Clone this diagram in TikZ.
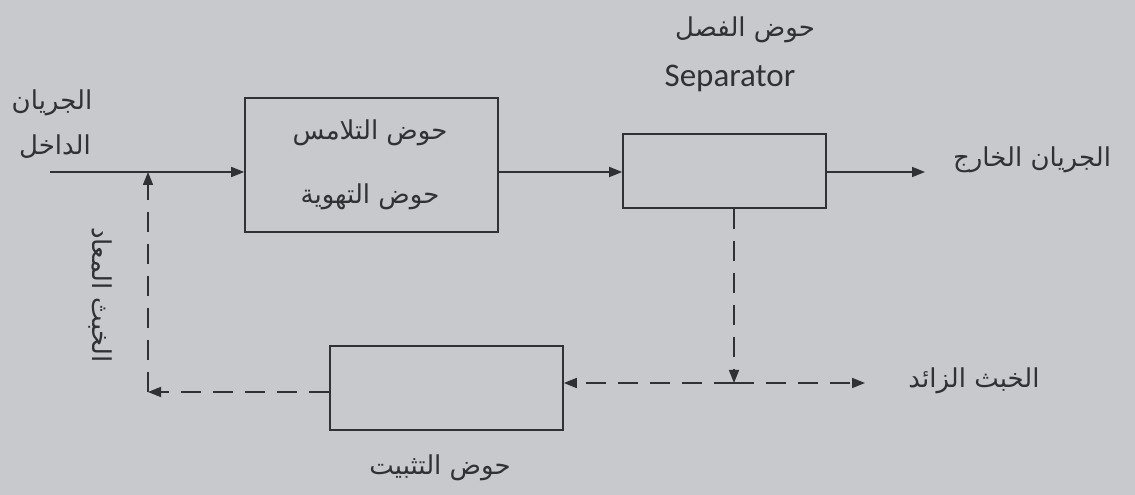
\documentclass[tikz,border=0pt]{standalone}
\usepackage{fontspec}
\setmainfont{Carlito}
\newfontfamily\arabicfont[Script=Arabic]{DejaVu Sans}
\TeXXeTstate=1
\usetikzlibrary{arrows.meta}
\definecolor{paper}{RGB}{200,201,204}
\definecolor{ink}{RGB}{48,49,53}
\newcommand{\artext}[1]{{\arabicfont\beginR #1\endR}}

\begin{document}
\begin{tikzpicture}[x=1pt,y=1pt,
    tank/.style={draw=ink,line width=1.6pt,inner sep=0pt},
    flow/.style={draw=ink,line width=1.6pt,-{Triangle[length=13pt,width=10pt]}},
    sludge/.style={draw=ink,line width=1.6pt,dash pattern=on 20pt off 12pt,
        -{Triangle[length=13pt,width=10pt]}},
    label/.style={text=ink,inner sep=0pt,font=\fontsize{26}{30}\selectfont}]
    % background
    \fill[paper] (0,0) rectangle (1135,495);
    \useasboundingbox (0,0) rectangle (1135,495);
    % tanks
    \node[tank,minimum width=253,minimum height=134] (contact) at (371.5,330) {};
    \node[tank,minimum width=203,minimum height=74] (separator) at (724.5,324) {};
    \node[tank,minimum width=233,minimum height=84] (stabil) at (446.5,107) {};
    \node[label] (contactA) at (370,362) {\artext{حوض التلامس}};
    \node[label] (contactB) at (370,298) {\artext{حوض التهوية}};
    \node[label] (sepA) at (745,465) {\artext{حوض الفصل}};
    \node[label,font=\fontsize{33}{38}\selectfont] (sepB) at (730,417) {Separator};
    \node[label] (stabilA) at (440,27) {\artext{حوض التثبيت}};
    % flow line
    \coordinate (inlet) at (50,323);
    \coordinate (join) at (148,323);
    \coordinate (outlet) at (925,323);
    \node[label] (inA) at (52,392) {\artext{الجريان}};
    \node[label] (inB) at (55,348) {\artext{الداخل}};
    \node[label] (outA) at (1032,335) {\artext{الجريان الخارج}};
    \draw[flow] (inlet) -- (contact.west |- inlet);
    \draw[flow] (contact.east |- inlet) -- (separator.west |- inlet);
    \draw[flow] (separator.east |- inlet) -- (outlet);
    % sludge lines
    \coordinate (drop) at (734,112);
    \coordinate (waste) at (865,112);
    \coordinate (corner) at (148,103);
    \node[label] (wasteA) at (974,114) {\artext{الخبث الزائد}};
    \node[label,rotate=-90] (returnA) at (100,200) {\artext{الخبث المعاد}};
    \draw[sludge] (separator.south -| drop) -- (drop);
    \draw[sludge] (drop) -- (stabil.east |- drop);
    \draw[sludge] (drop) -- (waste);
    \draw[sludge] (stabil.west |- corner) -- (corner);
    \draw[sludge] (corner) -- (join);
\end{tikzpicture}
\end{document}
